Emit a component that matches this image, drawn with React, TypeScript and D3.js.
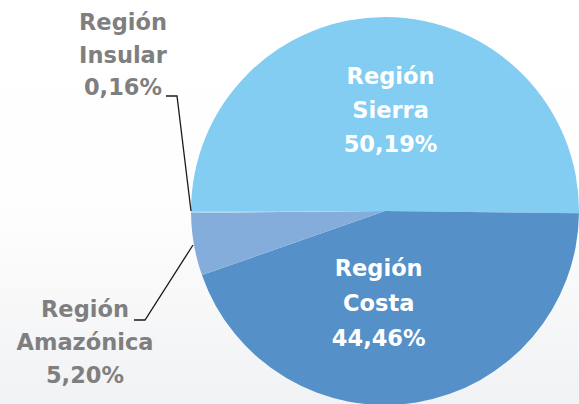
import React from "react";
import * as d3 from "d3";

const regions = ["Región Sierra", "Región Costa", "Región Amazónica", "Región Insular"];
const shares = [50.19, 44.46, 5.2, 0.16];
const shareLabels = ["50,19%", "44,46%", "5,20%", "0,16%"];
const colors = ["#83CDF3", "#5590C8", "#84ADDC", "#A9D2F2"];

const W = 579;
const H = 404;
const cx = 385;
const cy = 211;
const R = 194;
const FONT = "'DejaVu Sans', sans-serif";

export default function App() {
  const pie = d3
    .pie<number>()
    .sort(null)
    .startAngle(-Math.PI / 2)
    .endAngle((3 * Math.PI) / 2);
  const arcs = pie(shares);
  const arcGen = d3.arc<d3.PieArcDatum<number>>().innerRadius(0).outerRadius(R);

  const lines = (i: number) => [...regions[i].split(" "), shareLabels[i]];

  const sierraC = arcGen.centroid(arcs[0]);
  const costaC = arcGen.centroid(arcs[1]);

  const textStyle = { fontFamily: FONT, fontWeight: 700, fontSize: 22.5 } as const;

  const sx = cx + sierraC[0] + 5;
  const sy = cy + sierraC[1] - 30;
  const kx = cx + costaC[0] - 22;
  const ky = cy + costaC[1] - 31;

  return (
    <svg
      width={W}
      height={H}
      style={{ position: "absolute", left: 0, top: 0, display: "block" }}
    >
      <defs>
        <linearGradient id="bg" x1="0" y1="0" x2="0" y2="1">
          <stop offset="0" stopColor="#ffffff" />
          <stop offset="0.5" stopColor="#fefefe" />
          <stop offset="1" stopColor="#f1f2f4" />
        </linearGradient>
      </defs>
      <rect x={0} y={0} width={W} height={H} fill="url(#bg)" />
      <g transform={`translate(${cx},${cy})`}>
        {arcs.map((a, i) => (
          <path key={i} d={arcGen(a) || ""} fill={colors[i]} />
        ))}
      </g>
      {/* Sierra label */}
      <text x={sx} y={sy} textAnchor="middle" fill="#ffffff" style={textStyle}>
        {lines(0).map((t, j) => (
          <tspan key={j} x={sx} dy={j === 0 ? 0 : 34}>
            {t}
          </tspan>
        ))}
      </text>
      {/* Costa label */}
      <text x={kx} y={ky} textAnchor="middle" fill="#ffffff" style={textStyle}>
        {lines(1).map((t, j) => (
          <tspan key={j} x={kx} dy={j === 0 ? 0 : 35}>
            {t}
          </tspan>
        ))}
      </text>
      {/* Insular label */}
      <text x={123} y={30} textAnchor="middle" fill="#7f7f7f" style={textStyle}>
        {lines(3).map((t, j) => (
          <tspan key={j} x={123} dy={j === 0 ? 0 : 32.5}>
            {t}
          </tspan>
        ))}
      </text>
      <polyline
        points={`166,96 177,96 191,${cy}`}
        fill="none"
        stroke="#1a1a1a"
        strokeWidth={1.3}
      />
      {/* Amazonica label */}
      <text x={85} y={317} textAnchor="middle" fill="#7f7f7f" style={textStyle}>
        {lines(2).map((t, j) => (
          <tspan key={j} x={85} dy={j === 0 ? 0 : 33}>
            {t}
          </tspan>
        ))}
      </text>
      <polyline
        points={`134,320 145,320 193,245`}
        fill="none"
        stroke="#1a1a1a"
        strokeWidth={1.3}
      />
    </svg>
  );
}
